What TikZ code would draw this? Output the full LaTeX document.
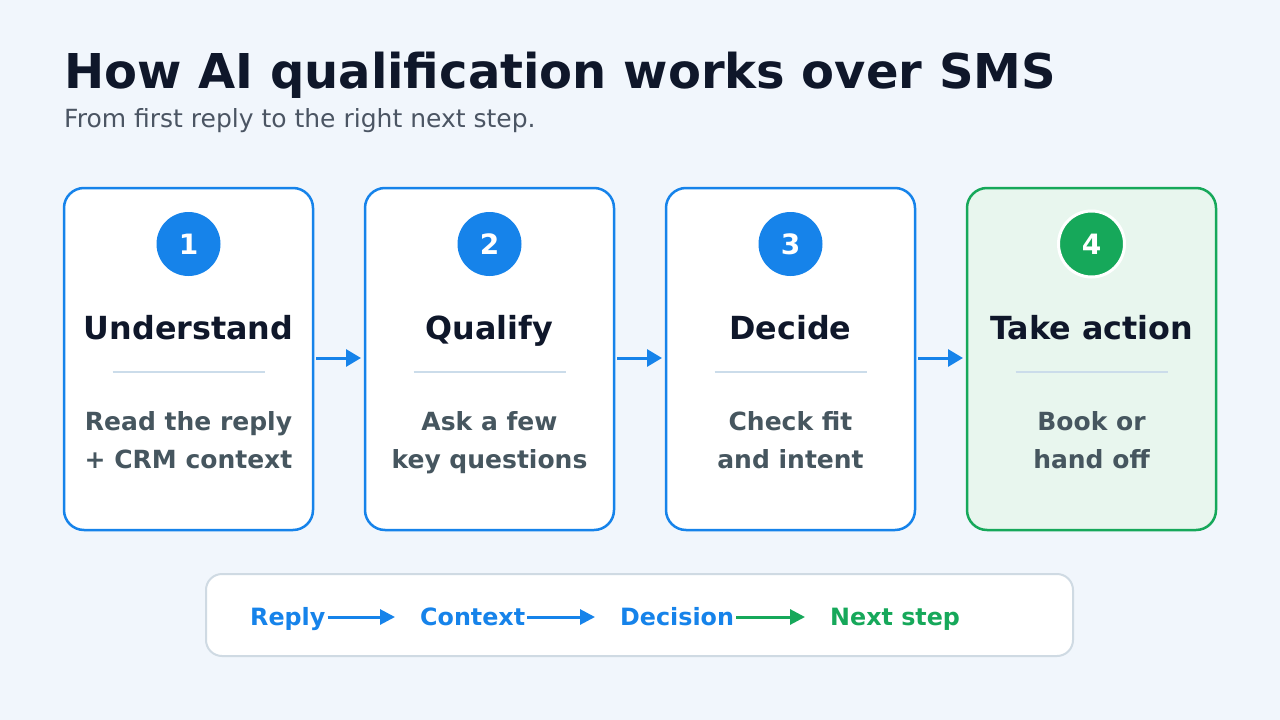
\documentclass[tikz,border=0pt]{standalone}
\usepackage{fontspec}
\setmainfont{DejaVu Sans}
\usetikzlibrary{arrows.meta}
\definecolor{bg}{HTML}{F1F6FC}
\definecolor{blu}{HTML}{1683EA}
\definecolor{grn}{HTML}{16A85A}
\definecolor{grnfill}{HTML}{E8F6EE}
\definecolor{ink}{HTML}{0F172A}
\definecolor{slate}{HTML}{46565F}
\definecolor{sub}{HTML}{4B5563}
\definecolor{sep}{HTML}{CBDCEA}
\definecolor{boxline}{HTML}{CFDAE3}
\tikzset{
  card/.style={draw=blu, line width=2.5pt, fill=white, rounded corners=20pt},
  gcard/.style={draw=grn, line width=2.5pt, fill=grnfill, rounded corners=20pt},
  badge/.style={circle, fill=blu, minimum size=64pt, inner sep=0pt, text=white, font=\fontsize{28}{28}\selectfont\bfseries},
  gbadge/.style={circle, fill=grn, draw=white, line width=3pt, minimum size=66pt, inner sep=0pt, text=white, font=\fontsize{28}{28}\selectfont\bfseries},
  ctitle/.style={anchor=base, text=ink, font=\fontsize{31.8}{31.8}\selectfont\bfseries},
  cdesc/.style={anchor=base, text=slate, font=\fontsize{25}{25}\selectfont\bfseries},
  flow/.style={draw=blu, line width=3pt, -{Triangle[length=15pt,width=17pt]}},
  bflow/.style={line width=3pt, -{Triangle[length=15pt,width=15pt]}},
  btext/.style={anchor=base west, font=\fontsize{23.8}{23.8}\selectfont\bfseries},
}
\begin{document}
\begin{tikzpicture}[x=1pt,y=-1pt]
\fill[bg] (0,0) rectangle (1280,720);
\useasboundingbox (0,0) rectangle (1280,720);
\node[anchor=base west, inner sep=0pt, text=ink, font=\fontsize{48}{48}\selectfont\bfseries] (title) at (64,88) {How AI qualification works over SMS};
\node[anchor=base west, inner sep=0pt, text=sub, font=\fontsize{25}{25}\selectfont] (subtitle) at (64,127) {From first reply to the right next step.};

% cards
\path[card] (64,188) rectangle (313,530);
\path[card] (365,188) rectangle (614,530);
\path[card] (666,188) rectangle (915,530);
\path[gcard] (967,188) rectangle (1216,530);
\coordinate (c1r) at (313,358); \coordinate (c2l) at (365,358);
\coordinate (c2r) at (614,358); \coordinate (c3l) at (666,358);
\coordinate (c3r) at (915,358); \coordinate (c4l) at (967,358);

\foreach \cx/\n/\t/\da/\db [count=\i] in {188.5/1/Understand/Read the reply/+ CRM context, 489.5/2/Qualify/Ask a few/key questions, 790.5/3/Decide/Check fit/and intent, 1091.5/4/Take action/Book or/hand off}{
  \ifnum\i=4
    \node[gbadge] (b\i) at (\cx,244) {\n};
  \else
    \node[badge] (b\i) at (\cx,244) {\n};
  \fi
  \node[ctitle] (t\i) at (\cx,339) {\t};
  \draw[sep, line width=2pt] (\cx-76,372) -- (\cx+76,372);
  \node[cdesc] (da\i) at (\cx,430) {\da};
  \node[cdesc] (db\i) at (\cx,468) {\db};
}

\draw[flow] ([xshift=3pt]c1r) -- ([xshift=-4pt]c2l);
\draw[flow] ([xshift=3pt]c2r) -- ([xshift=-4pt]c3l);
\draw[flow] ([xshift=3pt]c3r) -- ([xshift=-4pt]c4l);

% bottom strip
\path[draw=boxline, line width=2pt, fill=white, rounded corners=16pt] (206,574) rectangle (1073,656);
\node[btext, inner sep=0pt, text=blu] (r) at (250,625) {Reply};
\node[btext, inner sep=0pt, text=blu] (c) at (420,625) {Context};
\node[btext, inner sep=0pt, text=blu] (d) at (620,625) {Decision};
\node[btext, inner sep=0pt, text=grn] (n) at (830,625) {Next step};
\draw[bflow, draw=blu] (r.east |- 0,617) ++(2,0) -- (395,617);
\draw[bflow, draw=blu] (c.east |- 0,617) ++(2,0) -- (595,617);
\draw[bflow, draw=grn] (d.east |- 0,617) ++(2,0) -- (805,617);
\end{tikzpicture}
\end{document}
